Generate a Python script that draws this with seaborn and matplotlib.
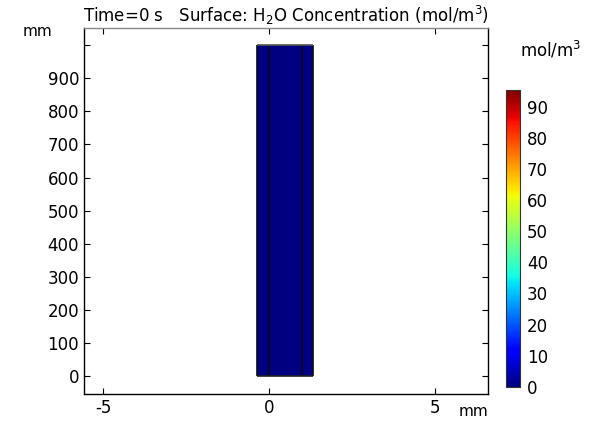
import numpy as np
import matplotlib
matplotlib.use("Agg")
import matplotlib.pyplot as plt
import seaborn as sns

# Data
x_edges = [-0.35, 0.0, 1.0, 1.33]          # mm, domain sub-rectangles
y_edges = [0.0, 1000.0]                     # mm
concentration = [[0.0, 0.0, 0.0]]           # mol/m^3 at t = 0
c_min, c_max = 0.0, 95.5
x_ticks = [-5, 0, 5]
y_ticks = [0, 100, 200, 300, 400, 500, 600, 700, 800, 900, 1000]
y_ticklabels = ["0", "100", "200", "300", "400", "500", "600", "700", "800", "900", ""]
cb_ticks = [0, 10, 20, 30, 40, 50, 60, 70, 80, 90]

sns.set_style("ticks")
plt.rcParams["font.family"] = ["DejaVu Sans"]
plt.rcParams["text.color"] = "black"
plt.rcParams["axes.labelcolor"] = "black"

FS = 12

fig = plt.figure(figsize=(5.95, 4.21), dpi=100)
ax = fig.add_axes([0.1412, 0.0648, 0.6785, 0.8687])
cax = fig.add_axes([0.8504, 0.0815, 0.0235, 0.7047])

X, Y = np.meshgrid(x_edges, y_edges)
mesh = ax.pcolormesh(X, Y, np.array(concentration), cmap="jet", vmin=c_min, vmax=c_max,
                     edgecolors="none", linewidth=0)
# domain boundaries
ax.vlines(x_edges, y_edges[0], y_edges[-1], colors="#0a0a1a", linewidth=1.2)
ax.hlines(y_edges[0], x_edges[0], x_edges[-1], colors="#202020", linewidth=1.2)
ax.hlines(y_edges[-1], x_edges[0], x_edges[-1], colors="#555555", linewidth=1.2)

ax.set_xlim(-5.57, 6.59)
ax.set_ylim(-53.5, 1052)
ax.set_xticks(x_ticks)
ax.set_xticklabels([str(t) for t in x_ticks])
ax.set_yticks(y_ticks)
ax.set_yticklabels(y_ticklabels)
ax.tick_params(direction="in", length=4, width=0.8, top=True, right=True,
               labelsize=FS, colors="black", pad=3.5)
for side in ["left", "bottom", "right"]:
    ax.spines[side].set_color("black")
    ax.spines[side].set_linewidth(1.0)
ax.spines["top"].set_color("#888888")
ax.spines["top"].set_linewidth(1.0)

ax.set_title(r"Time=0 s   Surface: H$_2$O Concentration (mol/m$^3$)", fontsize=FS, pad=4,
             color="black")
fig.text(37.5 / 595, 1 - 32 / 421, "mm", fontsize=FS - 1, ha="center", va="center")
fig.text(473.5 / 595, 1 - 411 / 421, "mm", fontsize=FS - 1, ha="center", va="center")
fig.text(551 / 595, 1 - 50 / 421, r"mol/m$^3$", fontsize=FS, ha="center", va="center")

cb = fig.colorbar(mesh, cax=cax, ticks=cb_ticks)
cb.outline.set_edgecolor("#333333")
cb.outline.set_linewidth(0.8)
cax.yaxis.set_ticks_position("both")
cax.tick_params(direction="in", length=3, width=0.6, left=True, right=True,
                labelsize=FS, pad=5, colors="black", labelleft=False, labelright=True)

fig.savefig("out.png", dpi=100)
